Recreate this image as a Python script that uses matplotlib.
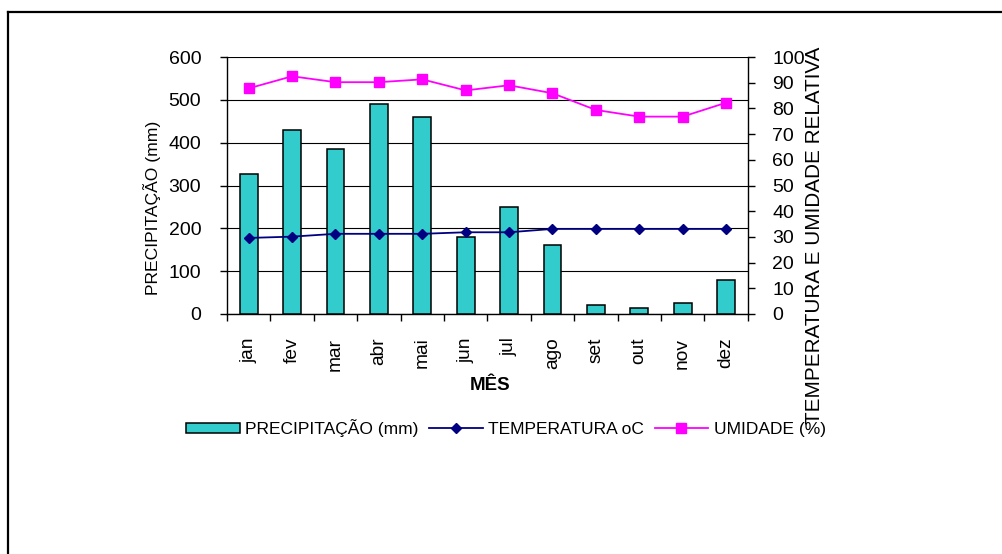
import matplotlib
matplotlib.use("Agg")
import matplotlib.pyplot as plt
from matplotlib.lines import Line2D
import numpy as np

plt.rcParams['font.family'] = ['Liberation Sans', 'DejaVu Sans']

months = ['jan', 'fev', 'mar', 'abr', 'mai', 'jun', 'jul', 'ago', 'set', 'out', 'nov', 'dez']
precip = [326, 430, 385, 490, 460, 180, 250, 160, 20, 15, 25, 80]
temp = [29.6, 30.1, 31.2, 31.2, 31.2, 31.8, 31.8, 33.1, 33.1, 33.1, 33.1, 33.1]
umid = [87.8, 92.5, 90.2, 90.2, 91.3, 87.0, 89.0, 85.9, 79.4, 76.8, 76.8, 82.2]
left_ticks = [0, 100, 200, 300, 400, 500, 600]
right_ticks = [0, 10, 20, 30, 40, 50, 60, 70, 80, 90, 100]

W, H = 1003, 554
fig = plt.figure(figsize=(W / 100, H / 100), dpi=100)
fig.patch.set_facecolor('white')

ax = fig.add_axes([227 / W, 1 - 314 / H, 520.7 / W, 257 / H])
x = np.arange(len(months))

ax.bar(x, precip, width=0.41, color='#33CCCC', edgecolor='black', linewidth=1.1,
       zorder=3, label='PRECIPITAÇÃO (mm)')
ax.set_xlim(-0.5, 11.5)
ax.set_ylim(0, 600)
ax.set_yticks(left_ticks)
ax.yaxis.grid(True, color='black', linewidth=0.8, zorder=0)
ax.set_axisbelow(True)
ax.set_xticks(x)
ax.set_xticklabels(months, rotation=90, fontsize=13.8)
ax.tick_params(axis='x', which='major', length=0, pad=17)
ax.set_xticks(np.arange(-0.5, 12, 1), minor=True)
ax.tick_params(axis='x', which='minor', length=5, width=1, direction='out')
ax.tick_params(axis='y', length=5, width=1, direction='out', labelsize=14, pad=13.5)
for s in ['left', 'bottom']:
    ax.spines[s].set_linewidth(1.0)
ax.spines['top'].set_visible(False)
ax.spines['right'].set_visible(False)

ax2 = ax.twinx()
ax2.set_ylim(0, 100)
ax2.set_yticks(right_ticks)
ax2.tick_params(axis='y', length=5, width=1, direction='out', labelsize=14, pad=12.5)
ax2.spines['right'].set_linewidth(1.0)
ax2.spines['top'].set_visible(False)
ax2.spines['left'].set_visible(False)
ax2.spines['bottom'].set_visible(False)
ax2.plot(x, temp, color='#000080', linewidth=1.3, marker='D', markersize=5.5,
         markerfacecolor='#000080', markeredgecolor='#000080', zorder=4,
         label='TEMPERATURA oC')
ax2.plot(x, umid, color='#FF00FF', linewidth=1.3, marker='s', markersize=6.5,
         markerfacecolor='#FF00FF', markeredgecolor='#FF00FF', zorder=4,
         label='UMIDADE (%)')

fig.text(152.5 / W, 1 - 207.5 / H, 'PRECIPITAÇÃO (mm)', rotation=90,
         ha='center', va='center', fontsize=12.6)
fig.text(815 / W, 1 - 235 / H, 'TEMPERATURA E UMIDADE RELATIVA', rotation=90,
         ha='center', va='center', fontsize=14.9)
fig.text(490 / W, 1 - 385 / H, 'MÊS', ha='center', va='center',
         fontsize=13.5, fontweight='bold')

h1, l1 = ax.get_legend_handles_labels()
h2, l2 = ax2.get_legend_handles_labels()
leg = fig.legend(h1 + h2, l1 + l2, loc='center', bbox_to_anchor=(506 / W, 1 - 428 / H),
                 ncol=3, frameon=False, fontsize=12.5, handlelength=3.1,
                 handleheight=0.5, handletextpad=0.3, columnspacing=0.6)

# outer frame (left and top edges)
fig.add_artist(Line2D([8.5 / W, 8.5 / W], [0, 1 - 11.5 / H], transform=fig.transFigure,
                      color='black', linewidth=1.6))
fig.add_artist(Line2D([8.5 / W, 1], [1 - 11.5 / H, 1 - 11.5 / H], transform=fig.transFigure,
                      color='black', linewidth=1.6))

fig.savefig('out.png', dpi=100)
